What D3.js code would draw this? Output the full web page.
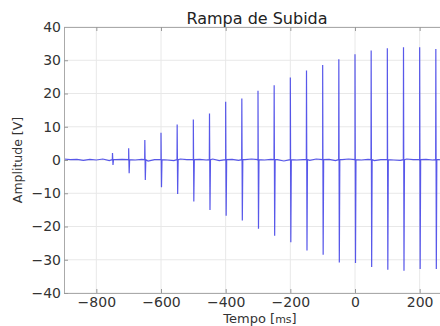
<!DOCTYPE html>
<html>
<head>
<meta charset="utf-8">
<script src="https://cdn.jsdelivr.net/npm/d3@7"></script>
<style>
  body { margin: 0; background: #fff; overflow: hidden; }
  svg { display: block; font-family: "DejaVu Sans", sans-serif; }
</style>
</head>
<body>
<svg id="chart" width="440" height="326"></svg>
<script>
// spike instants (ms) and their peak amplitudes (V)
const spikeTimes = [-750, -700, -650, -600, -550, -500, -450, -400, -350, -300, -250,
  -200, -150, -100, -50, 0, 50, 100, 150, 200, 250];
const spikeHigh = [2.1, 3.5, 6, 8.2, 10.7, 12.2, 14, 17.5, 18.5, 20.8, 22.5,
  24.8, 26.9, 28.6, 30.3, 31.8, 32.9, 33.6, 33.9, 33.9, 33.4];
const spikeLow = [-1.5, -4, -6, -8.2, -10.2, -12.5, -15, -16.8, -18.2, -20.7, -22.8,
  -24.7, -27.2, -28.5, -30.8, -31, -32.2, -33, -33.3, -32.8, -32.8];

// baseline noise, one sample every 20 ms from -900
const baseStart = -900;
const baseStep = 20;
const baseNoise = [0.3, 0.1, 0.2, -0.1, 0.2, 0.0, 0.3, -0.2, 0.1, 0.2, -0.1, 0.0,
  0.2, -0.3, 0.1, 0.2, 0.0, -0.2, 0.3, 0.1, -0.1, 0.2, 0.0, 0.3, -0.2, 0.1,
  0.2, -0.1, 0.1, 0.3, -0.2, 0.0, 0.2, 0.1, -0.3, 0.2, 0.0, 0.1, -0.1, 0.3,
  0.0, 0.2, -0.2, 0.1, 0.3, -0.1, 0.0, 0.2, -0.2, 0.1, 0.2, 0.0, -0.1, 0.3,
  0.1, -0.2, 0.2, 0.0, 0.1, -0.1, 0.2];

const xTicks = [-800, -600, -400, -200, 0, 200];
const yTicks = [-40, -30, -20, -10, 0, 10, 20, 30, 40];

var svg = d3.select("#chart"),
  margin = { top: 27, left: 64, bottom: 33 },
  height = +svg.attr("height") - margin.top - margin.bottom;

var x = d3.scaleLinear().domain([-900, 300]).range([margin.left, 452]);
var y = d3.scaleLinear().domain([-40, 40]).range([margin.top + height, margin.top]);

// build the trace from baseline samples plus a sharp up/down at each spike
var trace = baseNoise.map((v, i) => ({ t: baseStart + i * baseStep, v: v }));
spikeTimes.forEach((t, i) => {
  trace.push({ t: t - 0.5, v: 0.1 });
  trace.push({ t: t, v: spikeHigh[i] });
  trace.push({ t: t + 1.5, v: spikeLow[i] });
  trace.push({ t: t + 3, v: 0.1 });
});
trace.sort((a, b) => a.t - b.t);

// grid
svg.append("g")
  .selectAll("line.gx")
  .data(xTicks)
  .enter()
  .append("line")
  .attr("x1", d => x(d)).attr("x2", d => x(d))
  .attr("y1", y(40)).attr("y2", y(-40))
  .attr("stroke", "#e8e8e8");

svg.append("g")
  .selectAll("line.gy")
  .data(yTicks)
  .enter()
  .append("line")
  .attr("x1", x(-900)).attr("x2", 452)
  .attr("y1", d => y(d)).attr("y2", d => y(d))
  .attr("stroke", "#e8e8e8");

// signal
svg.append("path")
  .datum(trace)
  .attr("fill", "none")
  .attr("stroke", "#3b3be6")
  .attr("stroke-width", 1.2)
  .attr("stroke-opacity", 0.85)
  .attr("d", d3.line().x(d => x(d.t)).y(d => y(d.v)));

// axes
var xAxis = svg.append("g")
  .attr("transform", "translate(0," + y(-40) + ")")
  .call(d3.axisBottom(x).tickValues(xTicks).tickSizeInner(-4).tickSizeOuter(0)
    .tickPadding(4).tickFormat(d => d < 0 ? "\u2212" + Math.abs(d) : d));
var yAxis = svg.append("g")
  .attr("transform", "translate(" + margin.left + ",0)")
  .call(d3.axisLeft(y).tickValues(yTicks).tickSizeInner(-4).tickSizeOuter(0)
    .tickPadding(3).tickFormat(d => d < 0 ? "\u2212" + Math.abs(d) : d));

svg.append("g")
  .attr("transform", "translate(0," + y(40) + ")")
  .call(d3.axisTop(x).tickValues(xTicks).tickSizeInner(-4).tickSizeOuter(0).tickFormat(""));

[xAxis, yAxis].forEach(a => {
  a.selectAll("text").attr("font-size", 14).attr("fill", "#333")
    .attr("font-family", "DejaVu Sans, sans-serif");
});
svg.selectAll(".domain").attr("stroke", "#aaa");
svg.selectAll(".tick line").attr("stroke", "#999");

// titles
svg.append("text")
  .attr("x", 257).attr("y", 24)
  .attr("text-anchor", "middle")
  .attr("font-size", 16).attr("fill", "#222")
  .text("Rampa de Subida");

var xl = svg.append("text")
  .attr("x", 260).attr("y", 323)
  .attr("text-anchor", "middle")
  .attr("font-size", 13).attr("fill", "#333");
xl.append("tspan").text("Tempo [");
xl.append("tspan").attr("font-size", 11).text("ms");
xl.append("tspan").text("]");

svg.append("text")
  .attr("transform", "translate(22,160) rotate(-90)")
  .attr("text-anchor", "middle")
  .attr("font-size", 12.5).attr("fill", "#333")
  .text("Amplitude [V]");
</script>
</body>
</html>
